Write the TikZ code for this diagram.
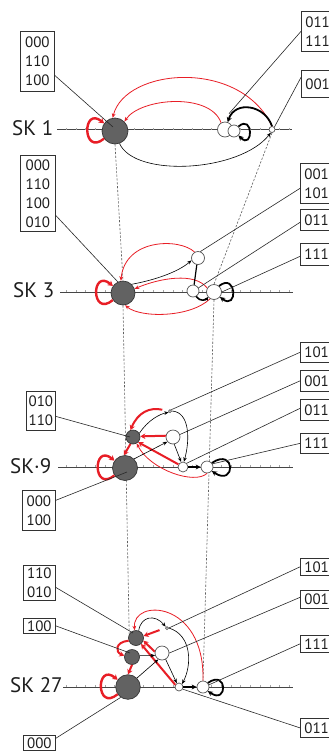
\documentclass[tikz,border=0pt]{standalone}
\usepackage{fontspec}
\usetikzlibrary{arrows.meta}
\newfontfamily\ptsans{PT Sans}
\newcommand\lblfont{\ptsans\fontsize{15pt}{19pt}\selectfont}
\newcommand\skfont{\ptsans\fontsize{21pt}{24pt}\selectfont}
\definecolor{arrred}{RGB}{232,30,38}
\definecolor{gfill}{RGB}{98,98,98}
\definecolor{gline}{RGB}{55,55,55}
\definecolor{wline}{RGB}{85,85,85}
\definecolor{boxline}{RGB}{50,50,50}
\definecolor{txt}{RGB}{30,30,30}
\definecolor{axisgray}{RGB}{70,70,70}
\definecolor{tickgray}{RGB}{165,165,165}
\definecolor{dashgray}{RGB}{95,95,95}
\definecolor{leadgray}{RGB}{40,40,40}
\pgfdeclarelayer{bg}
\pgfsetlayers{bg,main}
\tikzset{
  gnode/.style={circle, fill=gfill, draw=gline, line width=0.7pt, inner sep=0pt},
  wnode/.style={circle, fill=white, draw=wline, line width=0.7pt, inner sep=0pt},
  lbl/.style={draw=boxline, line width=0.7pt, inner sep=0pt, align=center, font=\lblfont, text=txt},
  rlbl/.style={lbl, anchor=north west, inner xsep=4pt, align=left},
  sklbl/.style={anchor=base west, font=\skfont, text=txt, inner sep=0pt},
  axisline/.style={draw=axisgray, line width=0.8pt},
  tickmark/.style={draw=tickgray, line width=0.4pt},
  guide/.style={draw=dashgray, line width=0.6pt, dash pattern=on 2.2pt off 1.6pt},
  leader/.style={draw=leadgray, line width=0.6pt},
  blk/.style={draw=black, line width=0.6pt, -{Stealth[length=4.5pt,width=3.6pt]}},
  blkthick/.style={draw=black, line width=1.8pt, -{Stealth[length=5pt,width=5pt]}},
  rd/.style={draw=arrred, line width=0.8pt, -{Stealth[length=4.5pt,width=3.8pt]}},
  rdthick/.style={draw=arrred, line width=2pt, -{Stealth[length=5pt,width=5.5pt]}},
  rdloop/.style={draw=arrred, line width=2.4pt, -{Stealth[length=5pt,width=6pt]}},
}
\begin{document}
\begin{tikzpicture}[x=1pt,y=-1pt]
\useasboundingbox (0,0) rectangle (329,753);
\clip (0,0) rectangle (329,753);

% ---------- SK 1 ----------
\node[gnode,minimum size=26pt] (b1) at (115,131) {};
\node[wnode,minimum size=15pt] (w1a) at (225,129.5) {};
\node[wnode,minimum size=12pt] (w1b) at (234,131) {};
\node[wnode,minimum size=6pt] (s1) at (272,129.5) {};
\node[sklbl] (sk1) at (12,135) {SK 1};
\node[lbl,anchor=north west,minimum width=34pt,minimum height=60pt] (L1) at (20,31) {000\\110\\100};
\node[rlbl,minimum height=40pt] (R1a) at (301,11) {011\\111};
\node[rlbl,minimum height=27pt] (R1b) at (301,70) {001};

\draw[rdloop] (b1.215) .. controls +(-22,18) and +(-22,-18) .. (b1.145);
\draw[rd] (s1.north) .. controls (240,58) and (125,68) .. (b1.100);
\draw[rd] (w1a.120) .. controls (210,92) and (140,98) .. (b1.45);
\draw[blkthick] (s1.north) .. controls (265,105) and (235,100) .. (w1a.70);
\draw[blkthick] (w1b.45) .. controls +(15,-13) and +(15,15) .. (w1b.-45);
\draw[blk] (b1.-70) .. controls (135,178) and (240,172) .. (s1.-110);

\draw[leader] ([yshift=-14pt]L1.east) -- ([shift={(-2pt,4pt)}]b1.center);
\draw[leader] (R1a.west) -- ([shift={(4pt,8pt)}]w1a.north);
\draw[leader] ([yshift=6.5pt]R1b.west) -- (s1.north east);

% ---------- SK 3 ----------
\node[gnode,minimum size=24pt] (b3) at (123,293) {};
\node[wnode,minimum size=13pt] (w3a) at (198,258) {};
\node[wnode,minimum size=12pt] (w3b) at (193,291) {};
\node[wnode,minimum size=15pt] (w3c) at (214,292) {};
\node[sklbl] (sk3) at (13,297) {SK 3};
\node[lbl,anchor=north west,minimum width=35pt,minimum height=76pt] (L3) at (20,155) {000\\110\\100\\010};
\node[rlbl,minimum height=40pt] (R3a) at (300,163) {001\\101};
\node[rlbl,minimum height=21pt] (R3b) at (300,209) {011};
\node[rlbl,minimum height=22pt] (R3c) at (300,243) {111};

\draw[rdloop] (b3.215) .. controls +(-22,18) and +(-22,-18) .. (b3.145);
\draw[blk] (b3.45) .. controls (155,280) and (178,272) .. (w3a.200);
\draw[rd] (w3a.120) .. controls (180,238) and (125,238) .. (b3.100);
\draw[rd] (w3c.150) .. controls (195,272) and (160,278) .. (b3.20);
\draw[rd] (w3c.-120) .. controls (190,318) and (140,318) .. (b3.-80);
\draw[black,line width=1.2pt] (w3a.-100) -- (w3b.80);
\draw[draw=black,line width=1.6pt,-{Stealth[length=3.5pt,width=4pt]}] (w3b.-60) .. controls (200,302) and (206,300) .. (w3c.-140);
\draw[blkthick] (w3c.50) .. controls +(18,-14) and +(18,14) .. (w3c.-40);

\draw[leader] ([yshift=-22pt]L3.east) -- (b3.115);
\draw[leader] ([yshift=-5pt]R3a.west) -- (w3a.70);
\draw[leader] ([yshift=-2.5pt]R3b.west) -- (w3b.30);
\draw[leader] ([yshift=-2pt]R3c.west) -- (w3c.east);

% ---------- SK 9 ----------
\node[gnode,minimum size=25pt] (b9) at (125,468) {};
\node[gnode,minimum size=14pt] (g9) at (133,437) {};
\node[wnode,minimum size=14pt] (w9a) at (173,437) {};
\node[wnode,minimum size=3pt] (d9) at (170,411) {};
\node[wnode,minimum size=10pt] (w9b) at (183,467) {};
\node[wnode,minimum size=12pt] (w9c) at (207,467) {};
\node[sklbl] (sk9) at (10,473) {SK·9};
\node[lbl,anchor=north west,minimum width=29pt,minimum height=39pt] (L9a) at (26,391) {010\\110};
\node[lbl,anchor=north west,minimum width=33pt,minimum height=40pt] (L9b) at (22,490) {000\\100};
\node[rlbl,minimum height=20pt] (R9a) at (300,342) {101};
\node[rlbl,minimum height=21pt] (R9b) at (300,370) {001};
\node[rlbl,minimum height=21pt] (R9c) at (300,399) {011};
\node[rlbl,minimum height=20pt] (R9d) at (300,433) {111};

\draw[rdloop] (b9.215) .. controls +(-22,18) and +(-22,-18) .. (b9.145);
\draw[rdthick,shorten <=6pt] (d9.west) .. controls (150,407) and (138,412) .. (g9.110);
\draw[blk] (g9.30) .. controls (148,420) and (160,414) .. (d9.south west);
\draw[blk] (d9.east) .. controls (190,412) and (190,440) .. (w9b.80);
\draw[blk] (w9a.-80) -- (w9b.110);
\draw[rdthick] (w9a.170) -- (g9.5);
\draw[rdthick] (w9b.150) -- (g9.-45);
\draw[rd] (w9c.-90) .. controls (195,485) and (150,470) .. (g9.-60);
\draw[rdthick] (g9.-110) -- (b9.95);
\draw[blk] (b9.45) -- (w9a.-140);
\draw[blkthick] (w9b.east) -- (w9c.west);
\draw[blkthick] (w9c.40) .. controls +(24,-16) and +(24,16) .. (w9c.-40);

\draw[leader] ([yshift=-5.5pt]L9a.east) -- ([xshift=-3pt]g9.center);
\draw[leader] ([yshift=10pt]L9b.east) -- ([shift={(2pt,-4pt)}]b9.center);
\draw[leader] (R9a.west) -- (d9.north east);
\draw[leader] (R9b.west) -- (w9a.20);
\draw[leader] ([yshift=1.5pt]R9c.west) -- (w9b.45);
\draw[leader] (R9d.west) -- (w9c.30);

% ---------- SK 27 ----------
\node[gnode,minimum size=24.6pt] (b27) at (128,687) {};
\node[gnode,minimum size=15pt] (m27) at (132,657) {};
\node[gnode,minimum size=15pt] (t27) at (136,638) {};
\node[wnode,minimum size=14pt] (w27a) at (162,653) {};
\node[wnode,minimum size=3pt] (d27) at (167,628) {};
\node[wnode,minimum size=8pt] (w27b) at (179,687) {};
\node[wnode,minimum size=12pt] (w27c) at (203,687) {};
\node[sklbl] (sk27) at (10,692) {SK 27};
\node[lbl,anchor=north west,minimum width=32pt,minimum height=35pt] (L27a) at (23,565) {110\\010};
\node[lbl,anchor=north west,minimum width=32pt,minimum height=15pt] (L27b) at (23,618) {100};
\node[lbl,anchor=north west,minimum width=32pt,minimum height=15pt] (L27c) at (23,735) {000};
\node[rlbl,minimum height=17pt] (R27a) at (300,558) {101};
\node[rlbl,minimum height=18pt] (R27b) at (300,590) {001};
\node[rlbl,minimum height=17pt] (R27c) at (300,635) {111};
\node[rlbl,minimum height=19pt] (R27d) at (300,718) {011};

\draw[rdloop] (b27.215) .. controls +(-22,18) and +(-22,-18) .. (b27.145);
\draw[rd] (w27c.north) .. controls (205,600) and (132,598) .. (t27.100);
\draw[rdthick,shorten <=6pt] (d27.west) -- (t27.15);
\draw[blk] (t27.70) .. controls (141,616) and (155,614) .. (d27.north west);
\draw[blk] (d27.east) .. controls (192,635) and (192,665) .. (w27b.45);
\draw[blk] (w27a.-60) -- (w27b.120);
\draw[rdthick] (w27a.170) -- (t27.-20);
\draw[rdthick] (w27b.150) -- (t27.-50);
\draw[rdthick] (t27.200) .. controls (115,642) and (115,652) .. (m27.170);
\draw[rdthick] (m27.south) -- (b27.north);
\draw[blk] (m27.10) -- (w27a.200);
\draw[blk] (b27.45) -- (w27a.-120);
\draw[blkthick] (w27b.east) -- (w27c.west);
\draw[blkthick] (w27c.40) .. controls +(20,-14) and +(20,14) .. (w27c.-40);

\draw[leader] ([yshift=-4.5pt]L27a.east) -- ([shift={(-3pt,5pt)}]t27.center);
\draw[leader] (L27b.east) -- ([shift={(-2pt,4pt)}]m27.center);
\draw[leader] ([yshift=4.5pt]L27c.east) -- (b27.235);
\draw[leader] (R27a.west) -- (d27.east);
\draw[leader] ([yshift=2pt]R27b.west) -- (w27a.east);
\draw[leader] (R27c.west) -- (w27c.20);
\draw[leader] (R27d.west) -- (w27b.-30);

% ---------- axes, ticks and dashed guides behind the states ----------
\begin{pgfonlayer}{bg}
  \fill[white] (0,0) rectangle (329,753);
  \draw[axisline] (57,129.5) -- (292,129.5);
  \draw[axisline] (60,292) -- (293,292);
  \draw[axisline] (58,467) -- (293,467);
  \draw[axisline] (63,687) -- (293,687);
  \foreach \yy in {129.5,292,467,687}
    \foreach \k in {0,...,23}
      \draw[tickmark] ({66+9.7*\k},\yy) -- ++(0,-2);
  \draw[guide] (b1.south) -- (b3.north);
  \draw[guide] (s1.south) -- (w3c.north);
  \draw[guide] (b3.south) -- (t27.150);
  \draw[guide] (w3c.south) -- (w27c.north);
\end{pgfonlayer}
\end{tikzpicture}
\end{document}
